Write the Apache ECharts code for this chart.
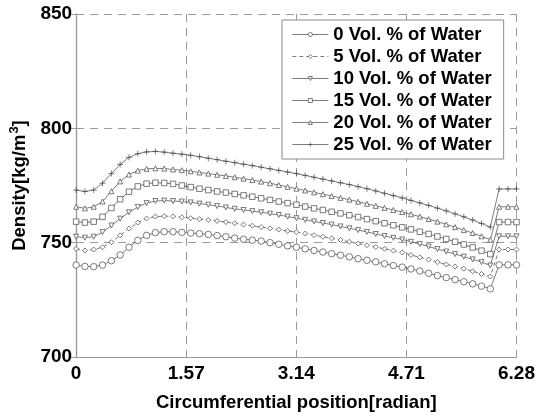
<!DOCTYPE html>
<html>
<head>
<meta charset="utf-8">
<script src="https://cdn.jsdelivr.net/npm/echarts@6/dist/echarts.min.js"></script>
<style>
html,body{margin:0;padding:0;background:#fff;}
#c{width:538px;height:417px;}
</style>
</head>
<body>
<div id="c"></div>
<script>
var xPos = [0, 0.126, 0.251, 0.377, 0.503, 0.628, 0.754, 0.880, 1.005, 1.131,
  1.257, 1.382, 1.508, 1.634, 1.759, 1.885, 2.011, 2.136, 2.262, 2.388,
  2.513, 2.639, 2.765, 2.890, 3.016, 3.142, 3.267, 3.393, 3.519, 3.644,
  3.770, 3.896, 4.021, 4.147, 4.273, 4.398, 4.524, 4.650, 4.775, 4.901,
  5.027, 5.152, 5.278, 5.404, 5.529, 5.655, 5.781, 5.906, 6.032, 6.158, 6.28];

var water0 = [740.2, 739.6, 739.5, 740.2, 742.1, 744.6, 748.0, 751.0, 753.2, 754.4,
  754.8, 754.8, 754.5, 754.2, 753.9, 753.6, 753.1, 752.6, 752.0, 751.5,
  751.1, 750.7, 750.0, 749.3, 748.6, 748.0, 747.3, 746.6, 745.9, 745.2,
  744.5, 743.8, 743.0, 742.3, 741.6, 740.8, 740.0, 739.3, 738.5, 737.6,
  736.6, 735.6, 734.7, 733.8, 732.9, 732.0, 731.0, 729.8, 740.3, 740.3, 740.3];
var water5 = [747.3, 746.6, 747.0, 748.0, 750.2, 753.2, 756.2, 758.8, 760.6, 761.4,
  761.6, 761.5, 761.1, 760.7, 760.3, 759.9, 759.5, 759.0, 758.5, 757.9,
  757.4, 756.8, 756.3, 755.7, 755.1, 754.6, 754.0, 753.3, 752.6, 751.9,
  751.2, 750.4, 749.6, 748.9, 748.1, 747.3, 746.5, 745.7, 744.6, 743.6,
  742.6, 741.5, 740.5, 739.6, 738.6, 737.5, 736.3, 735.2, 747.0, 747.0, 747.0];
var water10 = [752.6, 752.2, 752.6, 754.6, 757.5, 760.5, 763.3, 765.6, 767.3, 768.2,
  768.4, 768.2, 768.0, 767.6, 767.1, 766.6, 766.0, 765.4, 764.8, 764.3,
  763.8, 763.3, 762.7, 762.1, 761.4, 760.7, 760.0, 759.3, 758.6, 757.9,
  757.1, 756.3, 755.5, 754.7, 753.8, 752.9, 752.1, 751.4, 750.4, 749.4,
  748.3, 747.2, 746.1, 745.0, 743.9, 742.7, 741.5, 740.0, 752.8, 752.8, 752.8];
var water15 = [759.2, 758.8, 759.2, 761.3, 765.2, 769.0, 772.3, 774.6, 775.8, 776.2,
  776.1, 775.7, 775.0, 774.3, 773.6, 773.0, 772.4, 771.9, 771.3, 770.7,
  770.1, 769.4, 768.7, 768.0, 767.3, 766.6, 765.8, 765.0, 764.3, 763.5,
  762.8, 762.0, 761.2, 760.3, 759.4, 758.5, 757.6, 756.7, 755.8, 754.8,
  753.8, 752.7, 751.6, 750.4, 749.2, 747.9, 746.5, 745.0, 759.0, 759.0, 759.0];
var water20 = [765.7, 765.0, 765.7, 768.0, 772.5, 776.8, 779.8, 781.5, 782.3, 782.5,
  782.4, 782.0, 781.7, 781.2, 780.7, 780.2, 779.7, 779.2, 778.6, 778.0,
  777.4, 776.7, 776.0, 775.2, 774.4, 773.6, 772.8, 772.0, 771.2, 770.4,
  769.6, 768.8, 767.9, 767.0, 766.1, 765.2, 764.3, 763.4, 762.4, 761.4,
  760.3, 759.2, 758.0, 756.8, 755.5, 754.2, 752.8, 751.3, 765.7, 765.7, 765.7];
var water25 = [773.0, 772.4, 773.0, 776.0, 780.2, 784.2, 787.3, 788.9, 789.7, 789.9,
  789.6, 789.1, 788.7, 788.2, 787.6, 786.9, 786.3, 785.6, 785.0, 784.3,
  783.7, 783.0, 782.3, 781.6, 780.9, 780.2, 779.4, 778.6, 777.8, 777.0,
  776.2, 775.4, 774.5, 773.6, 772.6, 771.6, 770.6, 769.6, 768.5, 767.4,
  766.3, 765.1, 763.9, 762.6, 761.3, 759.9, 758.4, 756.8, 773.5, 773.5, 773.5];

var seriesNames = ['0 Vol. % of Water', '5 Vol. % of Water', '10 Vol. % of Water',
  '15 Vol. % of Water', '20 Vol. % of Water', '25 Vol. % of Water'];
var xTickLabels = ['0', '1.57', '3.14', '4.71', '6.28'];
var yTickLabels = ['700', '750', '800', '850'];

var FONT = '"Liberation Sans", Arial, Helvetica, sans-serif';
var LINE = '#444';
var AXIS = '#9a9a9a';

function pairs(vals) {
  return vals.map(function (v, i) { return [xPos[i], v]; });
}

var markers = [
  { symbol: 'circle', size: 6.5, rotate: 0, type: 'solid' },
  { symbol: 'diamond', size: 5, rotate: 0, type: [4, 3] },
  { symbol: 'triangle', size: 5, rotate: 180, type: 'solid' },
  { symbol: 'rect', size: 5.5, rotate: 0, type: 'solid' },
  { symbol: 'triangle', size: 5, rotate: 0, type: 'solid' },
  { symbol: 'path://M5,0L5,10M0,5L10,5', size: 6, rotate: 0, type: 'solid' }
];
var allData = [water0, water5, water10, water15, water20, water25];

var series = allData.map(function (vals, k) {
  var m = markers[k];
  return {
    name: seriesNames[k],
    type: 'line',
    data: pairs(vals),
    symbol: m.symbol,
    symbolSize: m.size,
    symbolRotate: m.rotate,
    showSymbol: true,
    showAllSymbol: true,
    lineStyle: { color: LINE, width: 0.7, type: m.type },
    itemStyle: { color: '#fff', borderColor: LINE, borderWidth: 0.7 },
    emphasis: { disabled: true },
    animation: false,
    z: 3
  };
});

var chart = echarts.init(document.getElementById('c'), null, { renderer: 'canvas' });
chart.setOption({
  animation: false,
  backgroundColor: '#fff',
  textStyle: { fontFamily: FONT },
  grid: { left: 74, right: 20, top: 14, bottom: 59, containLabel: false },
  legend: {
    show: true,
    orient: 'vertical',
    left: 282,
    top: 20,
    padding: [5, 12, 5, 10],
    itemGap: 3,
    itemWidth: 36,
    itemHeight: 5,
    backgroundColor: '#fff',
    borderColor: '#8a8a8a',
    borderWidth: 1,
    lineStyle: { width: 0.7 },
    itemStyle: { borderWidth: 0.7 },
    textStyle: { fontSize: 18.5, fontWeight: 'bold', color: '#000', fontFamily: FONT, lineHeight: 18 },
    data: seriesNames
  },
  xAxis: [{
    type: 'value',
    min: 0, max: 6.28, interval: 1.57,
    name: 'Circumferential position[radian]',
    nameLocation: 'middle',
    nameGap: 36,
    nameTextStyle: { fontSize: 18.5, fontWeight: 'bold', color: '#000', fontFamily: FONT },
    axisLine: { show: true, lineStyle: { color: AXIS, width: 1.2 } },
    axisTick: { show: true, inside: true, length: 5, lineStyle: { color: AXIS } },
    axisLabel: {
      margin: 7, fontSize: 19, fontWeight: 'bold', color: '#000', fontFamily: FONT,
      formatter: function (v) { return xTickLabels[Math.round(v / 1.57)]; }
    },
    splitLine: { show: true, lineStyle: { color: AXIS, type: [8, 6], width: 1 } }
  }, {
    type: 'value', position: 'top',
    min: 0, max: 6.28, interval: 1.57,
    axisLine: { show: false },
    axisTick: { show: true, inside: true, length: 5, lineStyle: { color: AXIS } },
    axisLabel: { show: false },
    splitLine: { show: false }
  }],
  yAxis: [{
    type: 'value',
    min: 700, max: 850, interval: 50,
    name: '{n|Density[kg/m}{s|3}{n|]}',
    nameLocation: 'middle',
    nameRotate: 90,
    nameGap: 42,
    nameTextStyle: {
      color: '#000',
      rich: {
        n: { fontSize: 18.5, fontWeight: 'bold', color: '#000', fontFamily: FONT, lineHeight: 24 },
        s: { fontSize: 13, fontWeight: 'bold', color: '#000', fontFamily: FONT, verticalAlign: 'top', lineHeight: 24, padding: [0, 0, 8, 1] }
      }
    },
    axisLine: { show: true, lineStyle: { color: AXIS, width: 1.2 } },
    axisTick: { show: true, inside: true, length: 5, lineStyle: { color: AXIS } },
    axisLabel: {
      margin: 4, fontSize: 19, fontWeight: 'bold', color: '#000', fontFamily: FONT,
      formatter: function (v) { return yTickLabels[Math.round((v - 700) / 50)]; }
    },
    splitLine: { show: true, lineStyle: { color: AXIS, type: [8, 6], width: 1 } }
  }, {
    type: 'value', position: 'right',
    min: 700, max: 850, interval: 50,
    axisLine: { show: true, lineStyle: { color: AXIS, width: 1.2 } },
    axisTick: { show: true, inside: true, length: 5, lineStyle: { color: AXIS } },
    axisLabel: { show: false },
    splitLine: { show: false }
  }],
  series: series
});
</script>
</body>
</html>
